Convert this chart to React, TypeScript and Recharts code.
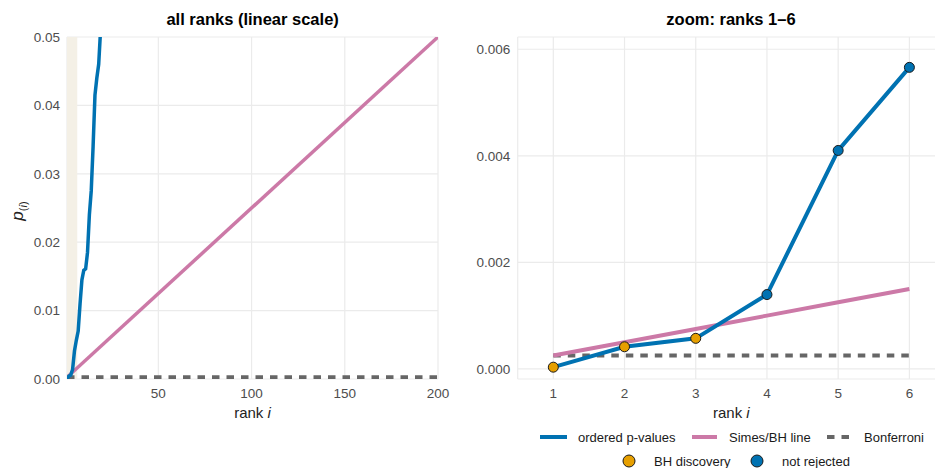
import React from 'react';
import { LineChart, Line, XAxis, YAxis, CartesianGrid, ReferenceArea } from 'recharts';

// test setup: m = 200 hypotheses, FDR level q = 0.05
const ALPHA = 0.05;
const M = 200;

// ordered p-values (only the ranks that show below 0.05, plus a couple above)
const ranks = [1, 2, 3, 4, 5, 6, 7, 8, 9, 10, 11, 12, 13, 14, 15, 16, 17, 18, 19, 20, 21];
const pValues = [
    0.000032, 0.000415, 0.000573, 0.001395, 0.0041, 0.00566, 0.0070, 0.0110, 0.0145, 0.0159,
    0.0161, 0.0185, 0.0240, 0.0275, 0.0340, 0.0415, 0.0440, 0.0460, 0.0510, 0.0570, 0.0640,
];

const zoomRanks = [1, 2, 3, 4, 5, 6];
const lineEnds = [1, M];

const leftXTicks = [50, 100, 150, 200];
const leftYTicks = [0, 0.01, 0.02, 0.03, 0.04, 0.05];
const rightXTicks = [1, 2, 3, 4, 5, 6];
const rightYTicks = [0, 0.002, 0.004, 0.006];

const BLUE = '#0072B2';
const PINK = '#CC79A7';
const ORANGE = '#E69F00';
const DASH = '#666666';
const GRID = '#EBEBEB';
const SHADE = '#F4F0E6';
const TICK = '#4D4D4D';
const INK = '#1A1A1A';

const pvData = ranks.map((r, i) => ({ rank: r, p: pValues[i] }));
const simesAll = lineEnds.map(r => ({ rank: r, v: (r * ALPHA) / M }));
const bonfAll = lineEnds.map(r => ({ rank: r, v: ALPHA / M }));

// BH step-up: largest k with p_(k) <= k q / m
const kMax = Math.max(0, ...ranks.filter((r, i) => pValues[i] <= (r * ALPHA) / M));

const zoomData = zoomRanks.map(r => ({
    rank: r,
    p: pValues[r - 1],
    simes: (r * ALPHA) / M,
    bonf: ALPHA / M,
    rejected: r <= kMax,
}));

const tickStyle = { fill: TICK, fontSize: 13.5 };

const rankLabel = (props: any) => {
    const vb = props.viewBox;
    return (
        <text x={vb.x + vb.width / 2} y={vb.y + 39} textAnchor="middle" fontSize={15} fill="#222">
            rank{' '}<tspan fontStyle="italic">i</tspan>
        </text>
    );
};

const pLabel = (props: any) => {
    const vb = props.viewBox;
    const cx = 23;
    const cy = vb.y + vb.height / 2 + 3;
    return (
        <text transform={`rotate(-90 ${cx} ${cy})`} x={cx} y={cy} textAnchor="middle" fill="#222">
            <tspan fontSize={17} fontStyle="italic">p</tspan>
            <tspan fontSize={11} dy={4}>(</tspan>
            <tspan fontSize={11} fontStyle="italic">i</tspan>
            <tspan fontSize={11}>)</tspan>
        </text>
    );
};

const rankDot = (props: any) => {
    const { cx, cy, payload, index } = props;
    return (
        <circle key={`dot-${index}`} cx={cx} cy={cy} r={5}
            fill={payload.rejected ? ORANGE : BLUE} stroke={INK} strokeWidth={1} />
    );
};

function Legend() {
    return (
        <svg width={935} height={468} style={{ position: 'absolute', left: 0, top: 0, pointerEvents: 'none' }}>
            <text x={252.6} y={25} textAnchor="middle" fontSize={16.5} fontWeight="bold" fill="#000">
                all ranks (linear scale)
            </text>
            <text x={731} y={25} textAnchor="middle" fontSize={16.5} fontWeight="bold" fill="#000">
                zoom: ranks 1–6
            </text>

            <g fontSize={13} fill={INK}>
                <line x1={540} x2={567} y1={437} y2={437} stroke={BLUE} strokeWidth={4} />
                <text x={578} y={441.5}>ordered p-values</text>
                <line x1={692} x2={717} y1={437} y2={437} stroke={PINK} strokeWidth={4} />
                <text x={729} y={441.5}>Simes/BH line</text>
                <line x1={827} x2={851} y1={437} y2={437} stroke={DASH} strokeWidth={4} strokeDasharray="7.5 7" />
                <text x={864} y={441.5}>Bonferroni</text>

                <circle cx={629} cy={461} r={6} fill={ORANGE} stroke={INK} strokeWidth={1} />
                <text x={654} y={465.5}>BH discovery</text>
                <circle cx={757} cy={461} r={6} fill={BLUE} stroke={INK} strokeWidth={1} />
                <text x={782} y={465.5}>not rejected</text>
            </g>
        </svg>
    );
}

export default function App() {
    return (
        <div style={{
            position: 'absolute', left: 0, top: 0, width: 935, height: 468, overflow: 'hidden',
            background: '#fff', fontFamily: '"Liberation Sans", Arial, sans-serif',
        }}>
            <div style={{ position: 'absolute', left: 0, top: 0 }}>
                <LineChart width={462} height={430} margin={{ top: 37, right: 24, bottom: 21, left: 0 }}>
                    <CartesianGrid stroke={GRID} strokeWidth={1.2} />
                    <XAxis type="number" dataKey="rank" domain={[1, 200]} ticks={leftXTicks} allowDataOverflow
                        axisLine={false} tickLine={false} tickSize={0} tickMargin={9} height={30}
                        tick={tickStyle} label={rankLabel} />
                    <YAxis type="number" domain={[0, 0.05]} ticks={leftYTicks} allowDataOverflow
                        axisLine={false} tickLine={false} tickSize={0} tickMargin={7} width={67}
                        tick={tickStyle} tickFormatter={(v: number) => v.toFixed(2)} label={pLabel} />
                    <ReferenceArea x1={1} x2={6.5} fill={SHADE} fillOpacity={1} stroke="none" />
                    <Line data={bonfAll} dataKey="v" stroke={DASH} strokeWidth={4} strokeDasharray="7.5 7"
                        dot={false} activeDot={false} isAnimationActive={false} />
                    <Line data={simesAll} dataKey="v" stroke={PINK} strokeWidth={3.5}
                        dot={false} activeDot={false} isAnimationActive={false} />
                    <Line data={pvData} dataKey="p" stroke={BLUE} strokeWidth={3.5}
                        dot={false} activeDot={false} isAnimationActive={false} />
                </LineChart>
            </div>

            <div style={{ position: 'absolute', left: 440, top: 0 }}>
                <LineChart width={505} height={430} data={zoomData} margin={{ top: 37, right: 0, bottom: 21, left: 0 }}>
                    <CartesianGrid stroke={GRID} strokeWidth={1.2} />
                    <XAxis type="number" dataKey="rank" domain={[0.5, 6.5]} ticks={rightXTicks}
                        axisLine={false} tickLine={false} tickSize={0} tickMargin={9} height={30}
                        tick={tickStyle} label={rankLabel} />
                    <YAxis type="number" domain={[-0.00019, 0.00623]} ticks={rightYTicks} allowDataOverflow
                        axisLine={false} tickLine={false} tickSize={0} tickMargin={7.5} width={77.7}
                        tick={tickStyle} tickFormatter={(v: number) => v.toFixed(3)} />
                    <Line dataKey="bonf" stroke={DASH} strokeWidth={4} strokeDasharray="7.5 7"
                        dot={false} activeDot={false} isAnimationActive={false} />
                    <Line dataKey="simes" stroke={PINK} strokeWidth={4}
                        dot={false} activeDot={false} isAnimationActive={false} />
                    <Line dataKey="p" stroke={BLUE} strokeWidth={4}
                        dot={rankDot} activeDot={false} isAnimationActive={false} />
                </LineChart>
            </div>

            <Legend />
        </div>
    );
}
